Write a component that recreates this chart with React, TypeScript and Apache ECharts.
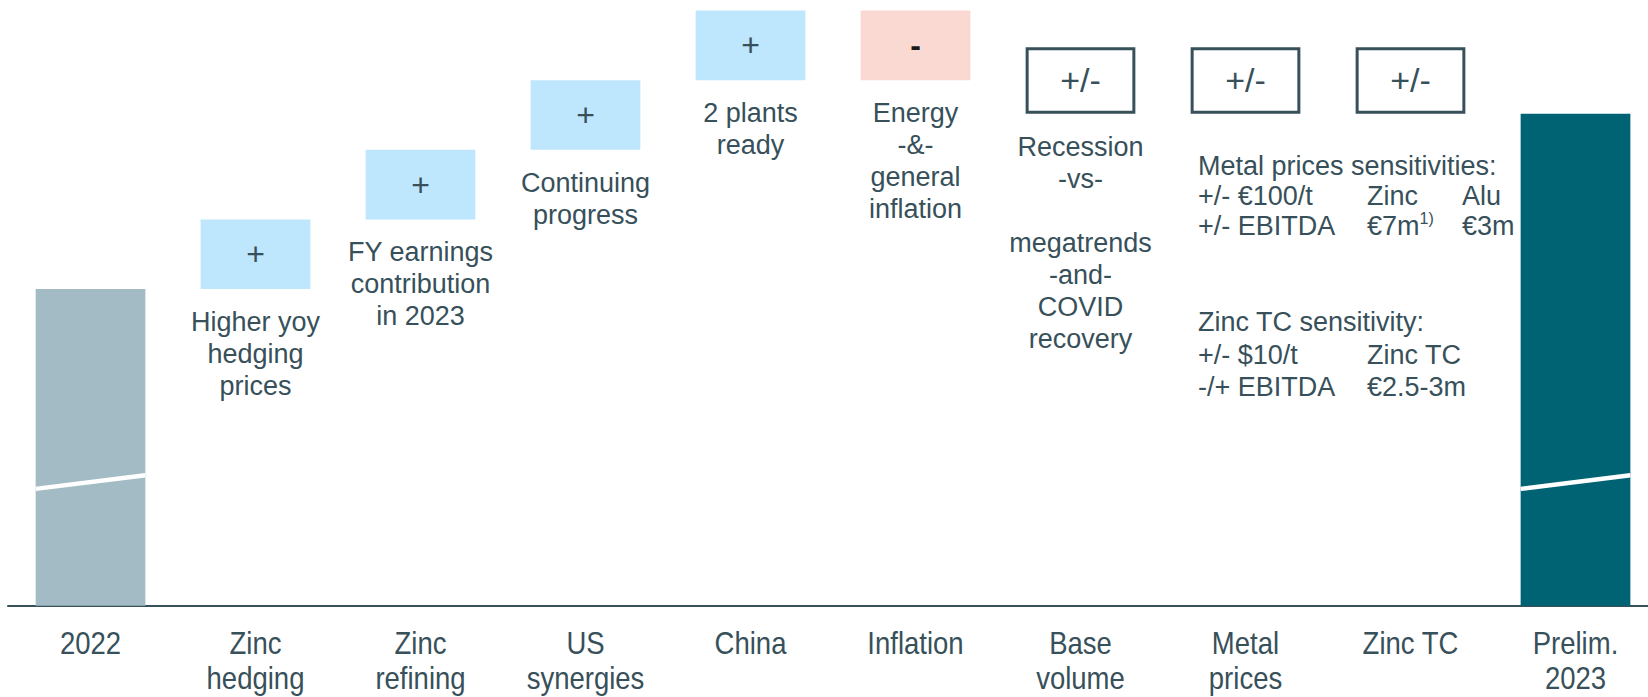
import React, { useEffect, useRef } from "react";
import * as echarts from "echarts";

const categories = [
  "2022",
  "Zinc\nhedging",
  "Zinc\nrefining",
  "US\nsynergies",
  "China",
  "Inflation",
  "Base\nvolume",
  "Metal\nprices",
  "Zinc TC",
  "Prelim.\n2023",
];
const baseValues = [0, 100, 122, 144, 166, 166, 155.4, 155.4, 155.4, 0];
const deltaValues = [100, 22, 22, 22, 22, 22, 21, 21, 21, 155.4];
const kinds = ["start", "plus", "plus", "plus", "plus", "minus", "range", "range", "range", "end"];
const signs = ["", "+", "+", "+", "+", "-", "+/-", "+/-", "+/-", ""];
const notes = [
  "",
  "Higher yoy\nhedging\nprices",
  "FY earnings\ncontribution\nin 2023",
  "Continuing\nprogress",
  "2 plants\nready",
  "Energy\n-&-\ngeneral\ninflation",
  "Recession\n-vs-\n\nmegatrends\n-and-\nCOVID\nrecovery",
  "",
  "",
  "",
];
const breakMarks = [
  [0, 36.9, 41.2],
  [9, 36.9, 41.2],
];
const metalTitle = "Metal prices sensitivities:";
const metalRows = [
  ["+/- €100/t", "Zinc", "Alu"],
  ["+/- EBITDA", "€7m{sup|1)}", "€3m"],
];
const tcTitle = "Zinc TC sensitivity:";
const tcRows = [
  ["+/- $10/t", "Zinc TC", ""],
  ["-/+ EBITDA", "€2.5-3m", ""],
];

const TEXT = "#37505a";
const FONT = "'Liberation Sans', Arial, sans-serif";
const colorOf: Record<string, string> = {
  start: "#a3bbc5",
  plus: "#bee6fd",
  minus: "#fad9d3",
  range: "#ffffff",
  end: "#006374",
};

export default function App() {
  const ref = useRef<HTMLDivElement>(null);
  useEffect(() => {
    if (!ref.current) return;
    const chart = echarts.init(ref.current, undefined, { renderer: "svg" });

    const valueData = deltaValues.map((v, i) => ({
      value: v,
      itemStyle:
        kinds[i] === "range"
          ? { color: "#ffffff", borderColor: TEXT, borderWidth: 3 }
          : { color: colorOf[kinds[i]] },
      label: {
        show: signs[i] !== "",
        color: kinds[i] === "minus" ? "#1a1a1a" : TEXT,
        fontWeight: kinds[i] === "minus" ? "bold" : "normal",
        fontSize: kinds[i] === "range" ? 34 : 32,
      },
    }));

    const noteData = notes
      .map((t, i) => [i, baseValues[i]])
      .filter((d) => notes[d[0]] !== "");
    const catData = categories.map((c, i) => [i, 0]);

    const colX = [1198, 1367, 1462];
    const graphics: any[] = [];
    const addBlock = (title: string, rows: string[][], y0: number, step: number) => {
      graphics.push({
        type: "text",
        x: colX[0],
        y: y0,
        style: { text: title, fontSize: 27, fontFamily: FONT, fill: TEXT, verticalAlign: "middle" },
      });
      rows.forEach((r, ri) => {
        r.forEach((c, ci) => {
          if (!c) return;
          graphics.push({
            type: "text",
            x: colX[ci],
            y: y0 + step * (ri + 1),
            style: {
              text: c,
              fontSize: 27,
              fontFamily: FONT,
              fill: TEXT,
              verticalAlign: "middle",
              rich: {
                sup: { fontSize: 16, fontFamily: FONT, fill: TEXT, verticalAlign: "bottom", padding: [0, 0, 16, 0] },
              },
            },
          });
        });
      });
    };
    addBlock(metalTitle, metalRows, 166, 30);
    addBlock(tcTitle, tcRows, 322, 32.6);

    chart.setOption({
      animation: false,
      grid: { left: 8, right: 22, top: 10.5, bottom: 91.3, outerBoundsMode: "none" },
      xAxis: {
        type: "category",
        data: categories,
        axisLine: { lineStyle: { color: TEXT, width: 2 } },
        axisTick: { show: false },
        axisLabel: { show: false },
      },
      yAxis: { type: "value", min: 0, max: 188, show: false },
      graphic: graphics,
      series: [
        {
          type: "bar",
          stack: "w",
          barWidth: "66.5%",
          itemStyle: { color: "transparent" },
          data: baseValues,
          silent: true,
        },
        {
          type: "bar",
          stack: "w",
          barWidth: "66.5%",
          data: valueData,
          label: {
            position: "inside",
            fontFamily: FONT,
            formatter: (p: any) => signs[p.dataIndex],
          },
        },
        {
          type: "custom",
          data: breakMarks,
          z: 5,
          renderItem: (params: any, api: any) => {
            const idx = api.value(0);
            const bw = api.size([1, 0])[0] * 0.665;
            const p1 = api.coord([idx, api.value(1)]);
            const p2 = api.coord([idx, api.value(2)]);
            return {
              type: "line",
              shape: { x1: p1[0] - bw / 2, y1: p1[1], x2: p2[0] + bw / 2, y2: p2[1] },
              style: { stroke: "#ffffff", lineWidth: 4.5 },
            };
          },
        },
        {
          type: "custom",
          data: noteData,
          z: 5,
          renderItem: (params: any, api: any) => {
            const idx = api.value(0);
            const p = api.coord([idx, api.value(1)]);
            return {
              type: "text",
              x: p[0],
              y: p[1] + 17,
              style: {
                text: notes[idx],
                fontSize: 27,
                lineHeight: 32,
                fontFamily: FONT,
                fill: TEXT,
                align: "center",
                verticalAlign: "top",
              },
            };
          },
        },
        {
          type: "custom",
          data: catData,
          z: 5,
          renderItem: (params: any, api: any) => {
            const idx = api.value(0);
            const p = api.coord([idx, 0]);
            return {
              type: "text",
              x: p[0],
              y: p[1] + 20,
              scaleX: 0.86,
              style: {
                text: categories[idx],
                fontSize: 32,
                lineHeight: 34.7,
                fontFamily: FONT,
                fill: TEXT,
                align: "center",
                verticalAlign: "top",
              },
            };
          },
        },
      ],
    });
    return () => chart.dispose();
  }, []);
  return (
    <div
      ref={ref}
      style={{ position: "fixed", left: 0, top: 0, width: 1680, height: 697, background: "#fff" }}
    />
  );
}
